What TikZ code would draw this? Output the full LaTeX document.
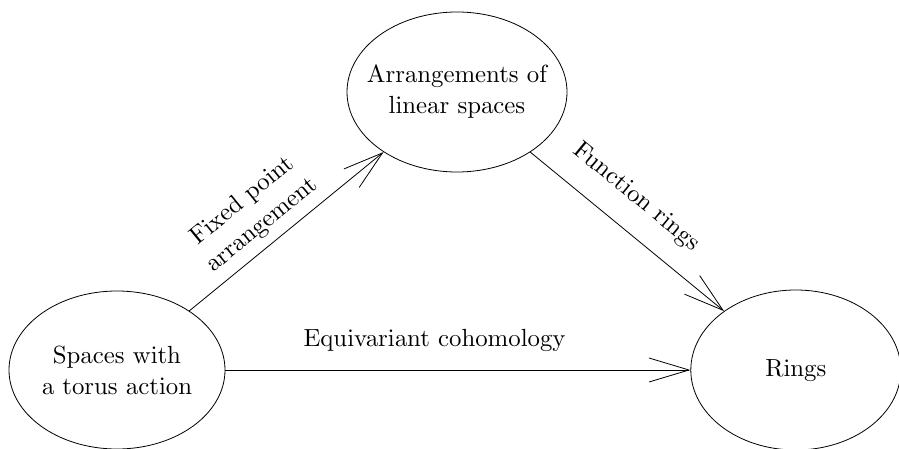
\documentclass[tikz,border=0pt]{standalone}
\usepackage{tikz}
\usetikzlibrary{
    arrows.meta,
    positioning,
    shapes.geometric,
}
% cmr10 blown up, not the narrow large design size
\font\diagfont=cmr10 at 24.8pt
\newcommand{\diagtext}{\diagfont\baselineskip=31pt\relax}
\tikzstyle{arrow}=[-{Straight Barb[length=40pt, width=24pt]}]
\tikzstyle{region}=[draw, ellipse, inner xsep=-14pt, inner ysep=0pt, align=center]
\tikzstyle{edgetext}=[inner sep=2pt, align=center]
\tikzset{every picture/.style={line width=0.8pt}}

\begin{document}
\begin{tikzpicture}[x=1pt, y=-1pt, font=\diagtext]
            \useasboundingbox (0,0) rectangle (899,449);
            \node[region, minimum width=216pt, minimum height=158pt] (torusspace) at (117,370) {Spaces with\\a torus action};
            \node[region, minimum width=220pt, minimum height=160pt] (linarrange) at (457,92) {Arrangements of\\linear spaces};
            \node[region, minimum width=210pt, minimum height=160pt, right=465pt of torusspace] (rings) {Rings};
            \draw[arrow] (torusspace) -- node[edgetext, pos=0.44, sloped, above=7pt] {Fixed point\\arrangement} (linarrange);
            \draw[arrow] (linarrange) -- node[edgetext, pos=0.44, sloped, above=19pt] {Function rings} (rings);
            \draw[arrow] (torusspace) -- node[edgetext, pos=0.45, above=16pt] {Equivariant cohomology} (rings);
        \end{tikzpicture}
\end{document}
